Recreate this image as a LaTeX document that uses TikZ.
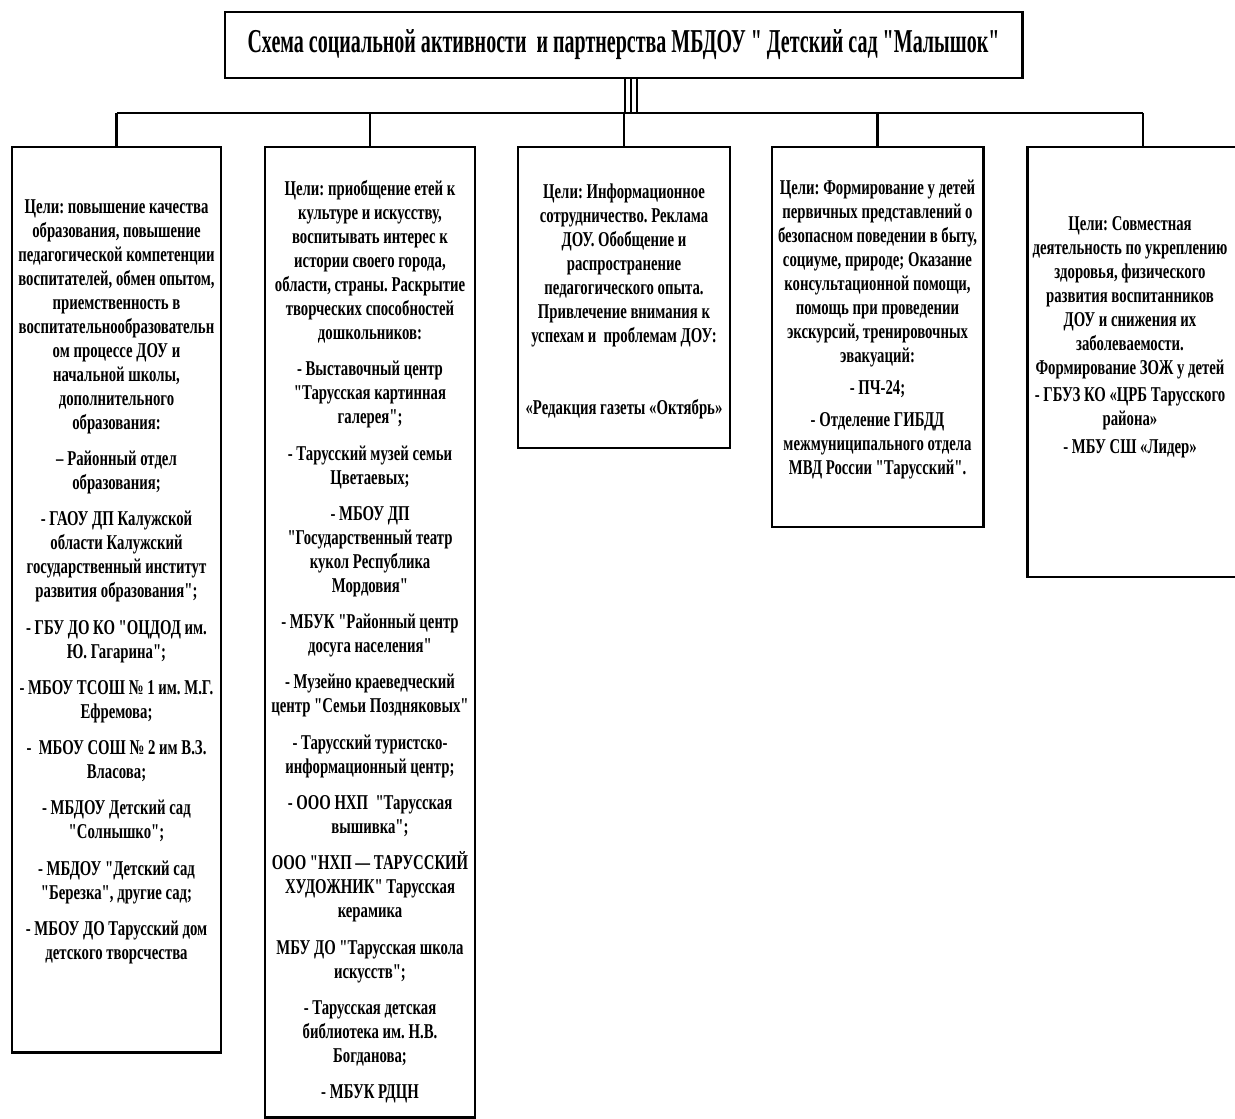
\documentclass[tikz,border=0pt]{standalone}
\usepackage{fontspec}
\setmainfont{Liberation Serif}[FakeStretch=0.7, Ligatures=TeXOff]
\newfontfamily\headfont{Liberation Serif}[FakeStretch=0.6, Ligatures=TeXOff]
\usetikzlibrary{positioning,fit,calc}
\frenchspacing
\tikzset{
    frame/.style={draw, line width=1.7pt, inner sep=0pt},
    bus line/.style={line width=1.6pt},
    drop line/.style={line width=1.2pt},
    twin line/.style={line width=0.8pt},
    goal text/.style={align=center, inner sep=0pt, anchor=north, font=\fontsize{12}{13.66}\selectfont\bfseries},
    head text/.style={inner sep=0pt, font=\headfont\fontsize{19}{22}\selectfont\bfseries},
}

\begin{document}
\begin{tikzpicture}[x=0.02cm, y=-0.02cm]
    \useasboundingbox (0,0) rectangle (1235,1119);
    \clip (0,0) rectangle (1235,1119);

    % title
    \node[frame, fit={(225,12) (1022,78)}] (title) {};
    \node[head text] (titletext) at (title.center) {Схема социальной активности \ и партнерства МБДОУ " Детский сад "Малышок"};

    % boxes
    \node[frame, fit={(12,147) (221,1052)}] (b1) {};
    \node[frame, fit={(265,147) (475,1117)}] (b2) {};
    \node[frame, fit={(518,147) (730,448)}] (b3) {};
    \node[frame, fit={(772,147) (983,527)}] (b4) {};
    \node[frame, fit={(1027,147) (1259,577)}] (b5) {};

    % connectors
    \coordinate (bus) at (625,113);
    \draw[bus line] (b1.north |- bus) -- (b5.north |- bus);
    \foreach \b in {b1,b2,b3,b4,b5}
        \draw[drop line] (\b.north |- bus) -- (\b.north);
    \foreach \dx in {0,6,12}
        \draw[twin line] ($(title.south -| bus)+(\dx,0)$) -- ($(bus)+(\dx,0)$);

    % texts
    \node[goal text] (t1) at (116.5,199) {Цели: повышение качества\\
        образования, повышение\\
        педагогической компетенции\\
        воспитателей, обмен опытом,\\
        приемственность в\\
        воспитательнообразовательн\\
        ом процессе ДОУ и\\
        начальной школы,\\
        дополнительного\\
        образования:\\[7pt]
        – Районный отдел\\
        образования;\\[7pt]
        - ГАОУ ДП Калужской\\
        области Калужский\\
        государственный институт\\
        развития образования";\\[7pt]
        - ГБУ ДО КО "ОЦДОД им.\\
        Ю. Гагарина";\\[7pt]
        - МБОУ ТСОШ № 1 им. М.Г.\\
        Ефремова;\\[7pt]
        - \ МБОУ СОШ № 2 им В.З.\\
        Власова;\\[7pt]
        - МБДОУ Детский сад\\
        "Солнышко";\\[7pt]
        - МБДОУ "Детский сад\\
        "Березка", другие сад;\\[7pt]
        - МБОУ ДО Тарусский дом\\
        детского творсчества};

    \node[goal text] (t2) at (370,180) {Цели: приобщение етей к\\
        культуре и искусству,\\
        воспитывать интерес к\\
        истории своего города,\\
        области, страны. Раскрытие\\
        творческих способностей\\
        дошкольников:\\[7pt]
        - Выставочный центр\\
        "Тарусская картинная\\
        галерея";\\[7pt]
        - Тарусский музей семьи\\
        Цветаевых;\\[7pt]
        - МБОУ ДП\\
        "Государственный театр\\
        кукол Республика\\
        Мордовия"\\[7pt]
        - МБУК "Районный центр\\
        досуга населения"\\[7pt]
        - Музейно краеведческий\\
        центр "Семьи Поздняковых"\\[7pt]
        - Тарусский туристско-\\
        информационный центр;\\[7pt]
        - ООО НХП \ "Тарусская\\
        вышивка";\\[7pt]
        ООО "НХП — ТАРУССКИЙ\\
        ХУДОЖНИК" Тарусская\\
        керамика\\[7pt]
        МБУ ДО "Тарусская школа\\
        искусств";\\[7pt]
        - Тарусская детская\\
        библиотека им. Н.В.\\
        Богданова;\\[7pt]
        - МБУК РДЦН};

    \node[goal text] (t3) at (624,184) {Цели: Информационное\\
        сотрудничество. Реклама\\
        ДОУ. Обобщение и\\
        распространение\\
        педагогического опыта.\\
        Привлечение внимания к\\
        успехам и \ проблемам ДОУ:\\[27pt]
        «Редакция газеты «Октябрь»};

    \node[goal text] (t4) at (877.5,180) {Цели: Формирование у детей\\
        первичных представлений о\\
        безопасном поведении в быту,\\
        социуме, природе; Оказание\\
        консультационной помощи,\\
        помощь при проведении\\
        экскурсий, тренировочных\\
        эвакуаций:\\[4.5pt]
        - ПЧ-24;\\[4.5pt]
        - Отделение ГИБДД\\
        межмуниципального отдела\\
        МВД России "Тарусский".};

    \node[goal text] (t5) at (1130,216) {Цели: Совместная\\
        деятельность по укреплению\\
        здоровья, физического\\
        развития воспитанников\\
        ДОУ и снижения их\\
        заболеваемости.\\
        Формирование ЗОЖ у детей\\[2pt]
        - ГБУЗ КО «ЦРБ Тарусского\\
        района»\\[2pt]
        - МБУ СШ «Лидер»};
\end{tikzpicture}
\end{document}
